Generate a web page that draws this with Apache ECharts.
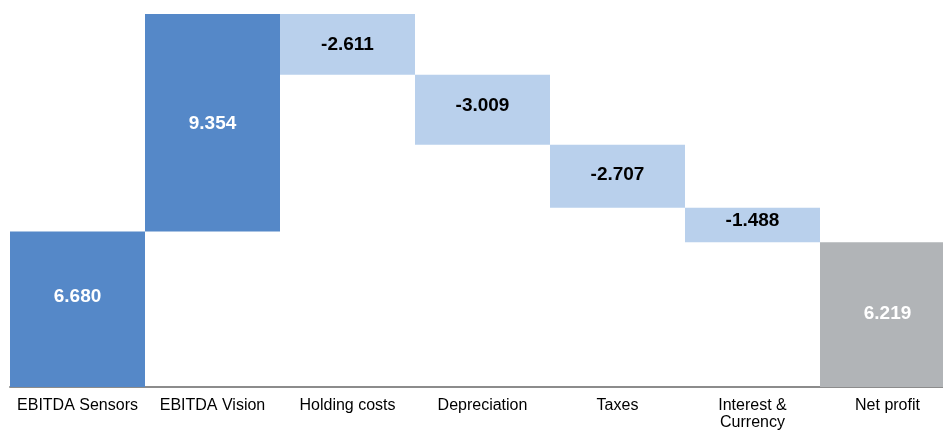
<!DOCTYPE html>
<html>
<head>
<meta charset="utf-8">
<script src="https://cdn.jsdelivr.net/npm/echarts@6/dist/echarts.min.js"></script>
<style>
  html, body { margin: 0; padding: 0; background: #ffffff; }
  #chart { width: 943px; height: 430px; }
</style>
</head>
<body>
<div id="chart"></div>
<script>
// Bridge from EBITDA to net profit (values in millions)
const categories = ['EBITDA Sensors', 'EBITDA Vision', 'Holding costs', 'Depreciation', 'Taxes', 'Interest &\nCurrency', 'Net profit'];
const changes = [6.680, 9.354, -2.611, -3.009, -2.707, -1.488, 6.219];
const kinds = ['gain', 'gain', 'cost', 'cost', 'cost', 'cost', 'total'];

const fills = { gain: '#5588c8', cost: '#b9d0ec', total: '#b1b4b7' };
const labelColors = { gain: '#ffffff', cost: '#000000', total: '#ffffff' };
// Small vertical nudges for the value labels
const labelLift = [-13, 1, 0, -4, -1, -4, -1];

// Invisible base under each floating step
const base = [];
const visible = [];
let running = 0;
let peak = 0;
changes.forEach((v, i) => {
  if (kinds[i] === 'total') {
    base.push(0);
    visible.push(Math.abs(v));
  } else if (v >= 0) {
    base.push(running);
    visible.push(v);
    running += v;
  } else {
    running += v;
    base.push(running);
    visible.push(-v);
  }
  peak = Math.max(peak, running, base[i] + visible[i]);
});

const chart = echarts.init(document.getElementById('chart'), null, { renderer: 'canvas' });
chart.setOption({
  animation: false,
  backgroundColor: '#ffffff',
  // the last column runs past the right edge of the canvas
  grid: { left: 10, width: 945, top: 14, bottom: 43, outerBoundsMode: 'none', containLabel: false },
  xAxis: {
    type: 'category',
    data: categories,
    axisTick: { show: false },
    axisLine: { lineStyle: { color: '#8c8c8c', width: 2 } },
    axisLabel: {
      interval: 0,
      margin: 10,
      color: '#000000',
      fontFamily: 'Liberation Sans, Arial, sans-serif',
      fontSize: 16,
      lineHeight: 17
    }
  },
  yAxis: {
    type: 'value',
    min: 0,
    max: peak,
    show: false,
    splitLine: { show: false }
  },
  series: [
    {
      type: 'bar',
      stack: 'bridge',
      silent: true,
      itemStyle: { color: 'transparent' },
      barCategoryGap: 0,
      data: base
    },
    {
      type: 'bar',
      stack: 'bridge',
      barCategoryGap: 0,
      data: visible.map((v, i) => ({
        value: v,
        itemStyle: { color: fills[kinds[i]] },
        label: {
          color: labelColors[kinds[i]],
          offset: [0, labelLift[i]],
          formatter: () => changes[i].toFixed(3)
        }
      })),
      label: {
        show: true,
        position: 'inside',
        fontFamily: 'Liberation Sans, Arial, sans-serif',
        fontWeight: 'bold',
        fontSize: 19
      }
    }
  ]
});
</script>
</body>
</html>
